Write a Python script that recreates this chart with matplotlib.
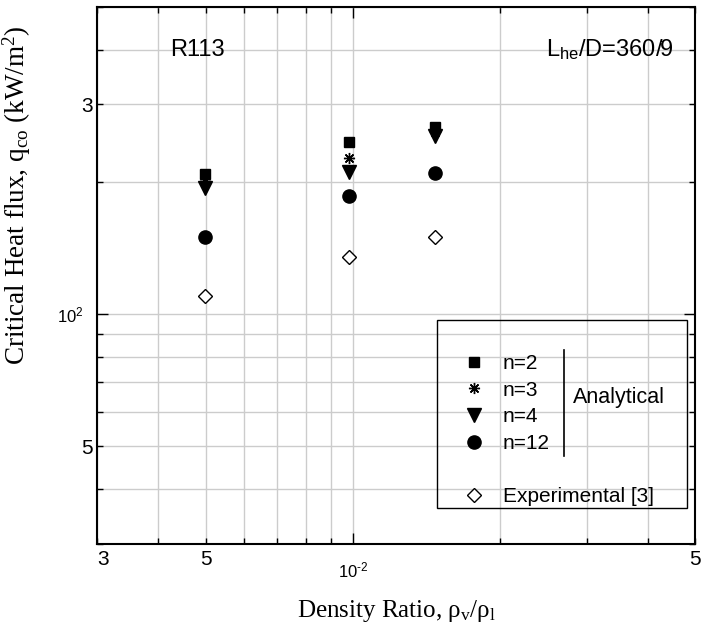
import matplotlib
matplotlib.use('Agg')
import matplotlib.pyplot as plt
from matplotlib.lines import Line2D
from matplotlib.patches import Rectangle
from matplotlib.ticker import FixedLocator, FixedFormatter

plt.rcParams['font.family'] = 'Liberation Sans'
plt.rcParams['mathtext.fontset'] = 'custom'
plt.rcParams['mathtext.rm'] = 'Liberation Serif'
plt.rcParams['mathtext.it'] = 'Liberation Serif:italic'
plt.rcParams['mathtext.sf'] = 'Liberation Sans'

# values (R113, L_he/D = 360/9)
density_ratio = [4.98e-3, 9.8e-3, 1.47e-2]
q_n2 = [208, 247, 266]
q_n3 = [201, 227, 260]
q_n4 = [194, 211, 254]
q_n12 = [150, 186, 210]
q_exp = [110, 135, 150]

x_minor = [3e-3, 4e-3, 5e-3, 6e-3, 7e-3, 8e-3, 9e-3, 2e-2, 3e-2, 4e-2, 5e-2]
x_minor_labels = ['3', '', '5', '', '', '', '', '', '', '', '5']
y_minor = [30, 40, 50, 60, 70, 80, 90, 200, 300, 400, 500]
y_minor_labels = ['', '', '5', '', '', '', '', '', '3', '', '']

fig = plt.figure(figsize=(7.03, 6.27), dpi=100)
ax = fig.add_axes([0.138, 0.1324, 0.851, 0.8565])

ax.set_xscale('log')
ax.set_yscale('log')
ax.set_xlim(3e-3, 5e-2)
ax.set_ylim(30, 500)

# markers
ax.plot(density_ratio, q_exp, ls='none', marker='D', ms=7.5, mfc='white', mec='k', mew=1)
ax.plot(density_ratio, q_n12, ls='none', marker='o', ms=9.5, color='k')
ax.plot(density_ratio, q_n4, ls='none', marker='v', ms=9.5, color='k')
ax.plot(density_ratio, q_n3, ls='none', marker=(8, 2, 0), ms=8, color='k', mew=1)
ax.plot(density_ratio, q_n2, ls='none', marker='s', ms=7.2, color='k')

# ticks: decades are major, the rest minor
ax.xaxis.set_major_locator(FixedLocator([1e-2]))
ax.xaxis.set_major_formatter(FixedFormatter(['$\\mathsf{10^{\u2010 2}}$']))
ax.xaxis.set_minor_locator(FixedLocator(x_minor))
ax.xaxis.set_minor_formatter(FixedFormatter(x_minor_labels))
ax.yaxis.set_major_locator(FixedLocator([1e2]))
ax.yaxis.set_major_formatter(FixedFormatter([r'$\mathsf{10^{2}}$']))
ax.yaxis.set_minor_locator(FixedLocator(y_minor))
ax.yaxis.set_minor_formatter(FixedFormatter(y_minor_labels))

ax.tick_params(which='both', direction='in', top=True, right=True, width=1)
ax.tick_params(which='major', length=8, labelsize=12)
ax.tick_params(which='minor', length=4.5, labelsize=15)
ax.tick_params(axis='x', which='minor', pad=4)
ax.tick_params(axis='x', which='major', pad=12)
ax.tick_params(axis='y', which='minor', pad=3)
ax.tick_params(axis='y', which='major', pad=10)
ax.xaxis.get_minor_ticks()[0].label1.set_horizontalalignment('left')

ax.grid(True, which='both', color='#cccccc', lw=1)
ax.set_axisbelow(True)
for s in ax.spines.values():
    s.set_linewidth(1.5)

ax.set_xlabel(r'Density Ratio, ρ$_\mathrm{v}$/ρ$_\mathrm{l}$', family='Liberation Serif', fontsize=18)
ax.set_ylabel(r'Critical Heat flux, q$_\mathrm{co}$ (kW/m$^\mathrm{2}$)', family='Liberation Serif', fontsize=19.5)
ax.xaxis.set_label_coords(0.5, -0.1)
ax.yaxis.set_label_coords(-0.107, 0.649)

ax.text(0.122, 0.92, 'R113', transform=ax.transAxes, fontsize=17, va='center', ha='left')
ax.text(0.965, 0.92, r'L$_\mathsf{he}$/D=360/9', transform=ax.transAxes, fontsize=17,
        va='center', ha='right')

# legend
handles = [Line2D([], [], ls='none', marker='s', ms=7.2, color='k'),
           Line2D([], [], ls='none', marker=(8, 2, 0), ms=8, color='k', mew=1),
           Line2D([], [], ls='none', marker='v', ms=9.5, color='k'),
           Line2D([], [], ls='none', marker='o', ms=9.5, color='k'),
           Line2D([], [], ls='none'),
           Line2D([], [], ls='none', marker='D', ms=7.5, mfc='white', mec='k', mew=1)]
labels = ['n=2', 'n=3', 'n=4', 'n=12', ' ', 'Experimental [3]']
ax.legend(handles, labels, loc='upper left', bbox_to_anchor=(0.612, 0.354),
          frameon=False, fontsize=15, handlelength=1, handletextpad=0.9,
          labelspacing=0.37, borderpad=0, borderaxespad=0)
ax.add_patch(Rectangle((0.5686, 0.067), 0.418, 0.35, transform=ax.transAxes,
                       fill=False, ec='k', lw=1, zorder=5))
ax.plot([0.781, 0.781], [0.164, 0.361], transform=ax.transAxes, color='k', lw=1.2)
ax.text(0.796, 0.272, 'Analytical', transform=ax.transAxes, fontsize=15.5, va='center', ha='left')

fig.savefig('out.png', dpi=100)
